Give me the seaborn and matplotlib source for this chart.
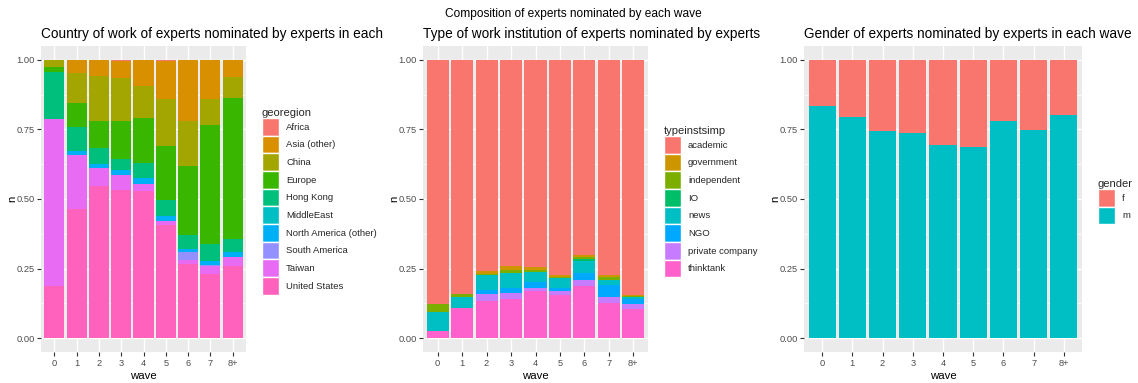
import numpy as np
import pandas as pd
import matplotlib
matplotlib.use("Agg")
import matplotlib.pyplot as plt
from matplotlib.patches import Patch
import seaborn as sns

# ---------------- data ----------------
waves = ["0", "1", "2", "3", "4", "5", "6", "7", "8+"]

geo_levels = ["Africa", "Asia (other)", "China", "Europe", "Hong Kong", "MiddleEast",
              "North America (other)", "South America", "Taiwan", "United States"]
geo_africa = [0.000, 0.000, 0.000, 0.004, 0.000, 0.004, 0.000, 0.000, 0.000]
geo_asia = [0.000, 0.048, 0.057, 0.062, 0.095, 0.138, 0.218, 0.140, 0.060]
geo_china = [0.024, 0.107, 0.161, 0.155, 0.113, 0.168, 0.164, 0.093, 0.076]
geo_europe = [0.021, 0.086, 0.099, 0.136, 0.163, 0.192, 0.248, 0.430, 0.506]
geo_hongkong = [0.166, 0.085, 0.058, 0.039, 0.053, 0.059, 0.049, 0.060, 0.047]
geo_middleeast = [0.000, 0.000, 0.000, 0.000, 0.000, 0.000, 0.000, 0.000, 0.000]
geo_northamerica = [0.000, 0.015, 0.012, 0.019, 0.023, 0.019, 0.010, 0.014, 0.019]
geo_southamerica = [0.000, 0.000, 0.000, 0.000, 0.000, 0.000, 0.029, 0.005, 0.000]
geo_taiwan = [0.600, 0.194, 0.066, 0.054, 0.024, 0.013, 0.016, 0.028, 0.033]
geo_us = [0.189, 0.465, 0.547, 0.531, 0.529, 0.407, 0.266, 0.230, 0.259]
geo_colors = ["#F8766D", "#D89000", "#A3A500", "#39B600", "#00BF7D", "#00BFC4",
              "#00B0F6", "#9590FF", "#E76BF3", "#FF62BC"]

inst_levels = ["academic", "government", "independent", "IO", "news", "NGO",
               "private company", "thinktank"]
inst_academic = [0.879, 0.840, 0.759, 0.742, 0.746, 0.773, 0.700, 0.773, 0.844]
inst_government = [0.000, 0.000, 0.009, 0.013, 0.008, 0.006, 0.008, 0.009, 0.004]
inst_independent = [0.027, 0.012, 0.004, 0.010, 0.009, 0.004, 0.006, 0.010, 0.005]
inst_io = [0.000, 0.000, 0.000, 0.000, 0.000, 0.000, 0.010, 0.000, 0.000]
inst_news = [0.067, 0.039, 0.054, 0.055, 0.037, 0.037, 0.042, 0.016, 0.007]
inst_ngo = [0.000, 0.000, 0.016, 0.019, 0.019, 0.011, 0.026, 0.046, 0.017]
inst_private = [0.000, 0.000, 0.023, 0.019, 0.012, 0.014, 0.022, 0.020, 0.019]
inst_thinktank = [0.027, 0.109, 0.135, 0.142, 0.169, 0.155, 0.186, 0.126, 0.104]
inst_colors = ["#F8766D", "#CD9600", "#7CAE00", "#00BE67", "#00BFC4", "#00A9FF",
               "#C77CFF", "#FF61CC"]

gender_levels = ["f", "m"]
gender_f = [0.167, 0.205, 0.254, 0.263, 0.307, 0.313, 0.221, 0.251, 0.197]
gender_m = [0.833, 0.795, 0.746, 0.737, 0.693, 0.687, 0.779, 0.749, 0.803]
gender_colors = ["#F8766D", "#00BFC4"]

panels = [
    dict(title="Country of work of experts nominated by experts in each",
         legend="georegion", levels=geo_levels, colors=geo_colors,
         series=[geo_africa, geo_asia, geo_china, geo_europe, geo_hongkong, geo_middleeast,
                 geo_northamerica, geo_southamerica, geo_taiwan, geo_us],
         box=(41, 246), leg=(262, 108)),
    dict(title="Type of work institution of experts nominated by experts",
         legend="typeinstsimp", levels=inst_levels, colors=inst_colors,
         series=[inst_academic, inst_government, inst_independent, inst_io, inst_news,
                 inst_ngo, inst_private, inst_thinktank],
         box=(423, 648), leg=(664, 126)),
    dict(title="Gender of experts nominated by experts in each wave",
         legend="gender", levels=gender_levels, colors=gender_colors,
         series=[gender_f, gender_m],
         box=(804, 1082), leg=(1098, 179)),
]

# ---------------- style ----------------
sns.set_theme(style="white")
plt.rcParams["font.family"] = ["Liberation Sans", "DejaVu Sans"]

W, H = 1138, 383
fig = plt.figure(figsize=(W / 100, H / 100), dpi=100)
top_px, bot_px = 46, 352

fig.text(573 / W, 1 - 14 / H, "Composition of experts nominated by each wave",
         ha="center", va="center", fontsize=8.55, color="black")

for p in panels:
    l, r = p["box"]
    ax = fig.add_axes([l / W, 1 - bot_px / H, (r - l) / W, (bot_px - top_px) / H])
    ax.set_facecolor("#EBEBEB")
    ax.set_axisbelow(True)
    # stacked bars: first level on top, drawn as overlapping cumulative bars
    series = [np.array(s) for s in p["series"]]
    for i, col in enumerate(p["colors"]):
        heights = np.sum(series[i:], axis=0)
        df = pd.DataFrame({"wave": waves, "n": heights})
        sns.barplot(data=df, x="wave", y="n", order=waves, color=col, saturation=1,
                    width=0.9, linewidth=0, errorbar=None, ax=ax, zorder=2)
    ax.set_xlim(-0.6, len(waves) - 0.4)
    ax.set_ylim(-0.05, 1.05)
    ax.set_yticks([0, 0.25, 0.5, 0.75, 1.0])
    ax.set_yticklabels(["0.00", "0.25", "0.50", "0.75", "1.00"])
    ax.set_yticks([0.125, 0.375, 0.625, 0.875], minor=True)
    ax.grid(True, which="major", color="white", linewidth=1.0, zorder=0)
    ax.grid(True, which="minor", axis="y", color="white", linewidth=0.5, zorder=0)
    for s in ax.spines.values():
        s.set_visible(False)
    ax.tick_params(axis="both", which="major", length=2.9, width=0.8, color="#333333",
                   labelcolor="#4D4D4D", labelsize=6.7, pad=1.5, left=True, bottom=True)
    ax.tick_params(axis="x", which="major", pad=2.5)
    ax.tick_params(axis="y", which="minor", length=0)
    ax.set_xlabel("wave", fontsize=8.2, color="black")
    ax.set_ylabel("n", fontsize=8.2, color="black")
    pw = r - l
    ph = bot_px - top_px
    ax.xaxis.set_label_coords(0.5, -(376 - bot_px) / ph)
    ax.xaxis.label.set_va("center")
    ax.yaxis.set_label_coords(-29 / pw, 0.5)
    ax.yaxis.label.set_va("center")

    fig.text(l / W, 1 - 34 / H, p["title"], ha="left", va="center", fontsize=9.8,
             color="black")

    handles = [Patch(facecolor=c, edgecolor="white", linewidth=1.0) for c in p["colors"]]
    lx, ly = p["leg"]
    fig.legend(handles=handles, labels=p["levels"], title=p["legend"],
               loc="upper left", bbox_to_anchor=(lx / W, 1 - ly / H),
               frameon=False, fontsize=6.8, title_fontsize=8.0,
               handlelength=1.8, handleheight=2.5, labelspacing=0.0,
               handletextpad=0.75, borderpad=0, borderaxespad=0, alignment="left")

fig.savefig("out.png", dpi=100, facecolor="white")
